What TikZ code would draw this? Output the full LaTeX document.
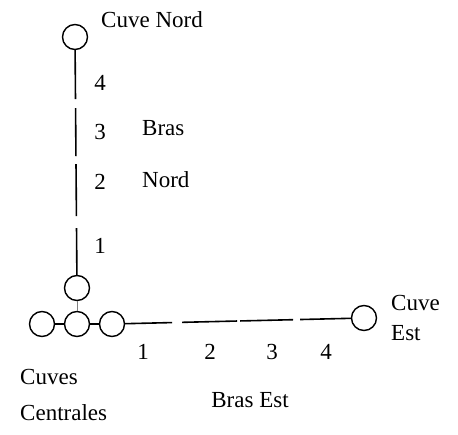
\documentclass[tikz,border=0pt]{standalone}
\usepackage{fontspec}
\setmainfont{Liberation Serif}
\begin{document}
\begin{tikzpicture}[x=1pt,y=-1pt,
  tank/.style={circle,draw,line width=1.4pt,minimum size=25pt,inner sep=0pt},
  lbl/.style={inner sep=0pt,font=\fontsize{23}{28}\selectfont},
  arm/.style={line width=1.6pt}]
\useasboundingbox (0,0) rectangle (458,434);
% tanks
\node[tank] (cn) at (75,37) {};
\node[tank] (c0) at (77,288) {};
\node[tank] (cl) at (42,324) {};
\node[tank] (cm) at (77,324) {};
\node[tank] (cr) at (112,324) {};
\node[tank] (ce) at (364,318) {};
% connectors
\draw[line width=1.2pt] (cl) -- (cm);
\draw[line width=1.2pt] (cm) -- (cr);
\draw[line width=0.5pt,gray] (c0) -- (cm);
\draw[arm,dash pattern=on 49pt off 9pt on 48pt off 8pt on 52pt off 12pt on 60pt] (cn) -- (c0);
\draw[arm,dash pattern=on 47pt off 10pt on 55pt off 3pt on 53pt off 7pt on 60pt] (cr) -- (ce);
% labels
\node[lbl,anchor=west] (tcn) at (101,20) {Cuve Nord};
\node[lbl] (n4) at (100,83) {4};
\node[lbl] (n3) at (100,132) {3};
\node[lbl] (n2) at (100,182) {2};
\node[lbl] (n1) at (100,246) {1};
\node[lbl,anchor=west] (bras) at (142,128) {Bras};
\node[lbl,anchor=west] (nord) at (142,180) {Nord};
\node[lbl] (e1) at (143,352) {1};
\node[lbl] (e2) at (210,352) {2};
\node[lbl] (e3) at (272,352) {3};
\node[lbl] (e4) at (326,352) {4};
\node[lbl,anchor=west,align=left,font=\fontsize{23}{30}\selectfont] (tce) at (391,318) {Cuve\\Est};
\node[lbl,anchor=west,align=left,font=\fontsize{23}{36}\selectfont] (tcc) at (20,395) {Cuves\\Centrales};
\node[lbl] (be) at (250,400) {Bras Est};
\end{tikzpicture}
\end{document}
